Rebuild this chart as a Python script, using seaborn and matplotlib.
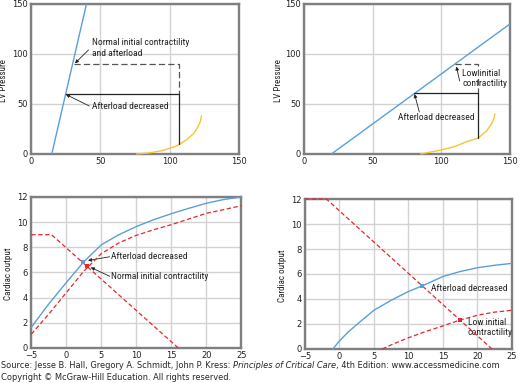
import numpy as np
import seaborn as sns
import matplotlib.pyplot as plt
from matplotlib import font_manager

# =====================================#
# DATA
# =====================================#
# top left: pressure-volume, normal contractility
tl_espvr_x = [15, 40]
tl_espvr_y = [0, 150]
tl_edpvr_x = [76, 85, 95, 105, 112, 117, 120, 122, 123]
tl_edpvr_y = [0, 1, 3.5, 8, 14, 20, 26, 32, 38]
tl_dash_x = [31, 107, 107]
tl_dash_y = [90, 90, 60]
tl_solid_x = [25, 107, 107]
tl_solid_y = [60, 60, 10]

# top right: low contractility
tr_espvr_x = [20, 150]
tr_espvr_y = [0, 130]
tr_edpvr_x = [85, 100, 110, 118, 127, 133, 136.5, 138.5, 139]
tr_edpvr_y = [0, 4, 7.5, 12, 16, 23, 30, 36, 40]
tr_dash_x = [110, 127, 127]
tr_dash_y = [90, 90, 61]
tr_solid_x = [80, 127, 127]
tr_solid_y = [61, 61, 16]

# bottom left: cardiac output vs filling
bl_x = [-5, -2.5, 0, 2.5, 5, 7.5, 10, 12.5, 15, 17.5, 20, 22.5, 25]
bl_blue = [1.65, 3.5, 5.2, 6.85, 8.2, 9.0, 9.65, 10.2, 10.67, 11.1, 11.5, 11.8, 12.0]
bl_red = [1.1, 2.7, 4.4, 6.1, 7.5, 8.35, 8.95, 9.4, 9.8, 10.25, 10.7, 11.0, 11.3]
bl_vr_x = [-5, -2.1, 16]
bl_vr_y = [9, 9, 0]
bl_pt_blue = (2.4, 6.85)
bl_pt_red = (3.0, 6.5)

# bottom right
br_blue_x = [-0.95, 0, 1.25, 2.5, 5, 7.5, 10, 12, 15, 17.5, 20, 22.5, 25]
br_blue_y = [0, 0.65, 1.35, 1.95, 3.1, 3.9, 4.6, 5.05, 5.8, 6.2, 6.5, 6.7, 6.85]
br_red_x = [6.2, 8, 10, 12.5, 15, 17.4, 20, 22.5, 25]
br_red_y = [0, 0.45, 0.9, 1.4, 1.85, 2.3, 2.7, 2.95, 3.1]
br_vr_x = [-5, -1.9, 22.1]
br_vr_y = [12, 12, 0]
br_pt_blue = (12.0, 5.05)
br_pt_red = (17.4, 2.35)

source_a = "Source: Jesse B. Hall, Gregory A. Schmidt, John P. Kress: "
source_b = "Principles of Critical Care"
source_c = ", 4th Edition: www.accessmedicine.com"
copyright = "Copyright \u00a9 McGraw-Hill Education. All rights reserved."

blue = "#5a9fd8"
red = "#e8262c"
yellow = "#f8c433"
frame = "#7f7f7f"
dash = (0, (3.5, 2))

sns.set_theme(style="whitegrid")

# look for a condensed face for the figure labels, fall back to Liberation Sans
cands = [f for f in font_manager.fontManager.ttflist
	if f.stretch in ("condensed", "semi-condensed") and f.style == "normal"
	and f.weight in (400, "normal", "regular")]
prefer = ["Roboto Condensed", "Noto Sans", "Open Sans", "Liberation Sans Narrow", "DejaVu Sans"]
cands.sort(key=lambda f: prefer.index(f.name) if f.name in prefer else 99)
if cands:
	narrow_fp = font_manager.FontProperties(fname=cands[0].fname)
else:
	narrow_fp = font_manager.FontProperties(family="Liberation Sans")

fig = plt.figure(figsize=(5.2, 3.83), dpi=100)
ax_tl = fig.add_axes([0.0596, 0.598, 0.400, 0.3916])
ax_tr = fig.add_axes([0.5846, 0.598, 0.396, 0.3916])
ax_bl = fig.add_axes([0.0602, 0.0914, 0.4038, 0.3943])
ax_br = fig.add_axes([0.5865, 0.0888, 0.398, 0.3916])

renderer = fig.canvas.get_renderer()


def fit_size(text, fp, target_px):
	fp = fp.copy()
	fp.set_size(10)
	t = fig.text(0, 0, text, fontproperties=fp)
	w = t.get_window_extent(renderer=renderer).width
	t.remove()
	return 10 * target_px / w


def sized(fp, size):
	fp = fp.copy()
	fp.set_size(size)
	return fp


ann_fp = sized(narrow_fp, fit_size("Normal initial contractility", narrow_fp, 96))
lab_fp = sized(narrow_fp, fit_size("Cardiac output", narrow_fp, 52))
src_plain = font_manager.FontProperties(family="DejaVu Sans")
src_size = fit_size(source_a + source_b + source_c, src_plain, 497)
src_plain.set_size(src_size)
src_ital = src_plain.copy()
src_ital.set_style("italic")


def style_axes(ax, xlim, ylim, xticks, yticks, ylabel, label_x):
	ax.set_xlim(xlim)
	ax.set_ylim(ylim)
	ax.set_xticks(xticks)
	ax.set_yticks(yticks)
	ax.grid(True, color="#d2d2d2", linewidth=1.0)
	for s in ax.spines.values():
		s.set_color(frame)
		s.set_linewidth(1.7)
	ax.tick_params(labelsize=6, length=0, pad=2.5, colors="#222222")
	for lab in ax.get_xticklabels() + ax.get_yticklabels():
		lab.set_family("DejaVu Sans")
	ax.set_ylabel(ylabel, fontproperties=lab_fp, color="#222222")
	# label_x is where the right edge of the rotated label sits
	ax.yaxis.set_label_coords(label_x, 0.49)
	ax.set_xlabel("")


def line(ax, x, y, **kw):
	sns.lineplot(x=x, y=y, ax=ax, sort=False, estimator=None, clip_on=False, zorder=4, **kw)


def arrow(ax, tail, tip):
	ax.annotate("", xy=tip, xytext=tail,
		arrowprops=dict(arrowstyle="-|>", color="#222222", lw=0.6, mutation_scale=5,
			shrinkA=0, shrinkB=0))


def label(ax, x, y, s):
	ax.text(x, y, s, fontproperties=ann_fp, ha="left", va="center", color="#222222",
		linespacing=1.15, clip_on=False)


# top left
line(ax_tl, tl_espvr_x, tl_espvr_y, color=blue, linewidth=1.0)
line(ax_tl, tl_edpvr_x, tl_edpvr_y, color=yellow, linewidth=1.0)
line(ax_tl, tl_dash_x, tl_dash_y, color="#555555", linewidth=0.9, linestyle=(0, (5, 2.5)))
line(ax_tl, tl_solid_x, tl_solid_y, color="#222222", linewidth=0.9)
label(ax_tl, 43.7, 106, "Normal initial contractility\nand afterload")
arrow(ax_tl, (41.5, 104), (31.7, 90.7))
label(ax_tl, 43.7, 47.3, "Afterload decreased")
arrow(ax_tl, (42, 48), (25.2, 59.5))
style_axes(ax_tl, (0, 150), (0, 150), [0, 50, 100, 150], [0, 50, 100, 150], "LV Pressure", -0.111)
ax_tl.lines[0].set_clip_on(True)

# top right
line(ax_tr, tr_espvr_x, tr_espvr_y, color=blue, linewidth=1.0)
line(ax_tr, tr_edpvr_x, tr_edpvr_y, color=yellow, linewidth=1.0)
line(ax_tr, tr_dash_x, tr_dash_y, color="#555555", linewidth=0.9, linestyle=(0, (5, 2.5)))
line(ax_tr, tr_solid_x, tr_solid_y, color="#222222", linewidth=0.9)
label(ax_tr, 115.4, 75, "Low initial\ncontractility")
arrow(ax_tr, (113.4, 73), (111, 87.5))
label(ax_tr, 68.3, 36.7, "Afterload decreased")
arrow(ax_tr, (84, 42), (80.5, 60))
style_axes(ax_tr, (0, 150), (0, 150), [0, 50, 100, 150], [0, 50, 100, 150], "LV Pressure", -0.102)

# bottom left
line(ax_bl, bl_x, bl_blue, color=blue, linewidth=1.0)
line(ax_bl, bl_x, bl_red, color=red, linewidth=0.9, linestyle=dash)
line(ax_bl, bl_vr_x, bl_vr_y, color=red, linewidth=0.9, linestyle=dash)
ax_bl.scatter(*bl_pt_blue, color=blue, marker="s", s=12, zorder=5, linewidths=0)
ax_bl.scatter(*bl_pt_red, color=red, marker="s", s=12, zorder=5, linewidths=0)
label(ax_bl, 6.4, 7.25, "Afterload decreased")
arrow(ax_bl, (6.2, 7.25), (3.1, 6.95))
label(ax_bl, 6.4, 5.7, "Normal initial contractility")
arrow(ax_bl, (6.2, 5.7), (3.5, 6.4))
style_axes(ax_bl, (-5, 25), (0, 12), range(-5, 26, 5), range(0, 13, 2), "Cardiac output", -0.087)

# bottom right
line(ax_br, br_blue_x, br_blue_y, color=blue, linewidth=1.0)
line(ax_br, br_red_x, br_red_y, color=red, linewidth=0.9, linestyle=dash)
line(ax_br, br_vr_x, br_vr_y, color=red, linewidth=0.9, linestyle=dash)
ax_br.scatter(*br_pt_blue, color=blue, marker="s", s=12, zorder=5, linewidths=0)
ax_br.scatter(*br_pt_red, color=red, marker="s", s=12, zorder=5, linewidths=0)
label(ax_br, 13.3, 4.85, "Afterload decreased")
label(ax_br, 18.6, 1.7, "Low initial\ncontractility")
style_axes(ax_br, (-5, 25), (0, 12), range(-5, 26, 5), range(0, 13, 2), "Cardiac output", -0.087)

# source lines
y1 = 1 - 368 / 383
y2 = 1 - 380 / 383
t_a = fig.text(0.002, y1, source_a, fontproperties=src_plain, va="baseline")
x_b = t_a.get_window_extent(renderer=renderer).x1 / fig.bbox.width
t_b = fig.text(x_b, y1, source_b, fontproperties=src_ital, va="baseline")
x_c = t_b.get_window_extent(renderer=renderer).x1 / fig.bbox.width
fig.text(x_c, y1, source_c, fontproperties=src_plain, va="baseline")
fig.text(0.002, y2, copyright, fontproperties=src_plain, va="baseline")

plt.savefig("out.png", dpi=100)
